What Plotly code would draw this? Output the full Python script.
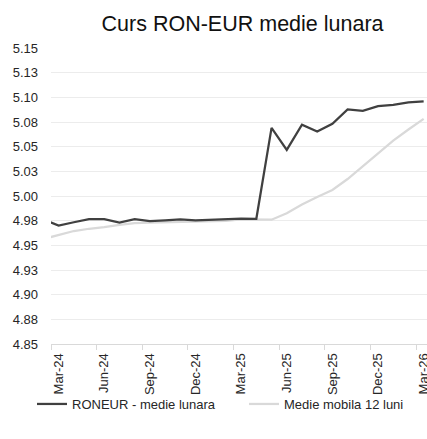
import plotly.graph_objects as go

# Monthly average EUR/RON rate and its 12-month moving average
months = [
    "Feb-24", "Mar-24", "Apr-24", "May-24", "Jun-24", "Jul-24", "Aug-24",
    "Sep-24", "Oct-24", "Nov-24", "Dec-24", "Jan-25", "Feb-25", "Mar-25",
    "Apr-25", "May-25", "Jun-25", "Jul-25", "Aug-25", "Sep-25", "Oct-25",
    "Nov-25", "Dec-25", "Jan-26", "Feb-26", "Mar-26",
]
roneur = [
    4.9763, 4.9701, 4.9734, 4.9765, 4.9765, 4.9731, 4.9765,
    4.9745, 4.9752, 4.9762, 4.9752, 4.9759, 4.9767, 4.9770,
    4.9769, 5.0691, 5.0468, 5.0722, 5.0654, 5.0732, 5.0877,
    5.0863, 5.0910, 5.0924, 5.0948, 5.0958,
]
medie_mobila = [
    4.9564, 4.9606, 4.9645, 4.9668, 4.9684, 4.9708, 4.9724,
    4.9731, 4.9734, 4.9738, 4.9741, 4.9745, 4.9748, 4.9762,
    4.9762, 4.9760, 4.9826, 4.9914, 4.9990, 5.0061, 5.0172,
    5.0299, 5.0431, 5.0562, 5.0674, 5.0782,
]
y_tick_vals = [4.85, 4.875, 4.9, 4.925, 4.95, 4.975, 5.0,
               5.025, 5.05, 5.075, 5.1, 5.125, 5.15]
y_tick_text = ["4.85", "4.88", "4.90", "4.93", "4.95", "4.98", "5.00",
               "5.03", "5.05", "5.08", "5.10", "5.13", "5.15"]

FONT = "Liberation Sans, Arial, sans-serif"
TEXT = "#262626"

fig = go.Figure()
fig.add_trace(go.Scatter(
    x=months, y=medie_mobila, mode="lines", name="Medie mobila 12 luni",
    line=dict(color="#d9d9d9", width=2.25), legend="legend2",
))
fig.add_trace(go.Scatter(
    x=months, y=roneur, mode="lines", name="RONEUR - medie lunara",
    line=dict(color="#404040", width=2.25), legend="legend",
))

legend_common = dict(
    orientation="h",
    xref="container", yref="container",
    xanchor="left", yanchor="middle",
    y=1 - 404 / 439,
    font=dict(family=FONT, size=13, color=TEXT),
    bgcolor="rgba(0,0,0,0)",
)

fig.update_layout(
    width=427, height=439,
    margin=dict(l=51, r=0, t=48, b=95, autoexpand=False),
    paper_bgcolor="white", plot_bgcolor="white",
    font=dict(family=FONT, size=13, color=TEXT),
    title=dict(
        text="Curs RON-EUR medie lunara",
        font=dict(family=FONT, size=21.5, color="#111111"),
        xref="container", x=0.568, xanchor="center",
        yref="container", y=1 - 23 / 439, yanchor="middle",
    ),
    showlegend=True,
    legend=dict(x=32 / 427, **legend_common),
    legend2=dict(x=244 / 427, **legend_common),
)

fig.update_xaxes(
    type="category",
    range=[0.5, 25.22],
    tickmode="linear", tick0=1, dtick=3,
    tickson="boundaries",
    ticks="outside", ticklen=5, tickcolor="#d9d9d9", tickwidth=1,
    showline=True, linecolor="#d9d9d9", linewidth=1,
    showgrid=False, zeroline=False,
    tickangle=-90, automargin=False, ticklabelstandoff=3,
    tickfont=dict(family=FONT, size=13, color=TEXT),
)
fig.update_yaxes(
    range=[4.85, 5.15],
    tickmode="array", tickvals=y_tick_vals, ticktext=y_tick_text,
    showgrid=True, gridcolor="#ececec", gridwidth=1,
    zeroline=False, showline=False, ticks="",
    ticklabelstandoff=12, automargin=False,
    tickfont=dict(family=FONT, size=13, color=TEXT),
)

fig.write_html("out.html")
